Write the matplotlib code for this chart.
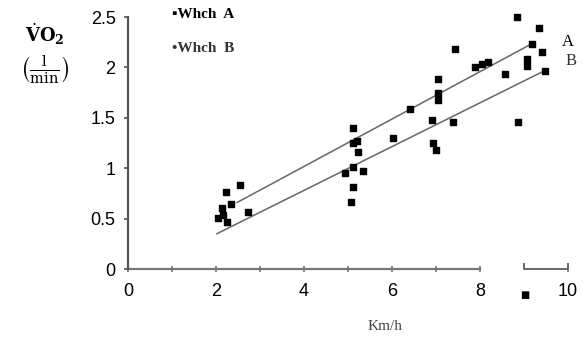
import matplotlib
matplotlib.use("Agg")
import matplotlib.pyplot as plt

# measured points (speed km/h, VO2 l/min)
a_x = [2.55, 2.23, 5.11, 5.20, 5.11, 6.02, 6.40, 7.05, 7.05, 7.43, 7.89, 8.04, 8.18,
       9.18, 9.34, 8.84, 9.40, 7.05]
a_y = [0.83, 0.76, 1.40, 1.27, 1.25, 1.30, 1.59, 1.88, 1.75, 2.18, 2.00, 2.03, 2.05,
       2.23, 2.39, 2.50, 2.15, 1.68]
b_x = [2.33, 2.14, 2.05, 2.25, 2.73, 2.16, 5.23, 5.11, 4.93, 5.34, 5.11, 5.07, 6.90,
       6.93, 7.00, 7.39, 8.57, 9.07, 9.07, 9.48, 8.86]
b_y = [0.64, 0.61, 0.51, 0.47, 0.57, 0.54, 1.16, 1.01, 0.95, 0.97, 0.81, 0.66, 1.48,
       1.25, 1.18, 1.46, 1.93, 2.08, 2.01, 1.96, 1.46]

# regression lines
line_a_x = [2.48, 9.20]
line_a_y = [0.66, 2.24]
line_b_x = [2.02, 9.48]
line_b_y = [0.35, 1.97]

x_ticks = [0, 2, 4, 6, 8, 10]
y_ticks = [0, 0.5, 1, 1.5, 2, 2.5]
y_labels = ["0", "0.5", "1", "1.5", "2", "2.5"]

SERIF = ["Liberation Serif", "DejaVu Serif"]
SANS = ["Liberation Sans", "DejaVu Sans"]

fig = plt.figure(figsize=(5.85, 3.39), dpi=100)
ax = fig.add_axes([128 / 585, 70 / 339, 440 / 585, 252 / 339])
ax.set_xlim(0, 10)
ax.set_ylim(0, 2.5)
ax.patch.set_alpha(0)

for s in ("top", "right", "bottom"):
    ax.spines[s].set_visible(False)
ax.spines["left"].set_color("#555555")
ax.spines["left"].set_linewidth(1.6)

# broken x axis: 0-8 then 9-10
ax.plot([0, 8], [0, 0], color="#777777", lw=1.6, clip_on=False)
ax.plot([9, 9, 10, 10], [0.05, 0, 0, 0.05], color="#666666", lw=1.4, clip_on=False)

ax.set_xticks(x_ticks)
ax.set_xticks([1, 3, 5, 7], minor=True)
ax.tick_params(axis="x", which="both", direction="inout", length=4, color="#777777",
               width=1.2, pad=8, labelsize=13)
ax.set_yticks(y_ticks)
ax.set_yticklabels(y_labels)
ax.tick_params(axis="y", direction="out", length=3, color="#555555", width=1.2,
               pad=6, labelsize=13)
for lab in ax.get_xticklabels() + ax.get_yticklabels():
    lab.set_family(SANS)

ax.plot(line_a_x, line_a_y, color="#666666", lw=1.1)
ax.plot(line_b_x, line_b_y, color="#666666", lw=1.1)
ax.scatter(a_x, a_y, marker="s", s=13, color="black", zorder=3, clip_on=False)
ax.scatter(b_x, b_y, marker="s", s=13, color="black", zorder=3, clip_on=False)

ax.text(9.85, 2.25, "A", family=SERIF, fontsize=12, ha="left", va="center")
ax.text(9.95, 2.06, "B", family=SERIF, fontsize=12, ha="left", va="center", color="#333333")

# legend-like labels
fig.text(172 / 585, 1 - 14 / 339, "\u25aaWhch  A", family=SERIF, fontsize=11,
         fontweight="bold", va="center", ha="left")
fig.text(172 / 585, 1 - 48 / 339, "\u2022Whch  B", family=SERIF, fontsize=11,
         fontweight="bold", va="center", ha="left", color="#333333")

# y label
fig.text(45 / 585, 1 - 34 / 339, r"$\dot{\mathbf{V}}\mathbf{O}_\mathbf{2}$", fontsize=13,
         ha="center", va="center", math_fontfamily="dejavuserif")
fig.text(45 / 585, 1 - 70 / 339, r"$\left(\frac{\mathrm{l}}{\mathrm{min}}\right)$",
         fontsize=15, ha="center", va="center", math_fontfamily="dejavuserif")

fig.text(385 / 585, 1 - 327 / 339, "Km/h", family=SERIF, fontsize=11,
         ha="center", va="center", color="#444444")
fig.text(525 / 585, 1 - 295 / 339, "\u25a0", family=["DejaVu Sans"], fontsize=7,
         ha="center", va="center")

fig.savefig("out.png", dpi=100)
